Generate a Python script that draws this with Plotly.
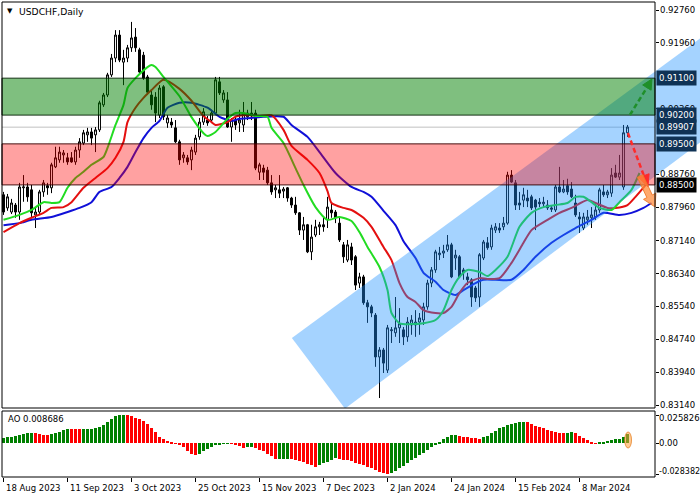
import plotly.graph_objects as go

W, H = 700, 500

# ---------------- data ----------------
dates = ["18 Aug 2023", "11 Sep 2023", "3 Oct 2023", "25 Oct 2023", "15 Nov 2023",
         "7 Dec 2023", "2 Jan 2024", "24 Jan 2024", "15 Feb 2024", "8 Mar 2024"]
date_bar = [0, 16, 32, 48, 64, 80, 96, 112, 128, 144]

open_ = [0.8826, 0.8794, 0.8784, 0.8801, 0.8784, 0.8843, 0.8845, 0.8838, 0.8777, 0.8784,
         0.8833, 0.8848, 0.8843, 0.8894, 0.8911, 0.8923, 0.8916, 0.8916, 0.8906, 0.8935,
         0.8952, 0.8972, 0.8979, 0.8972, 0.8984, 0.9045, 0.9069, 0.9118, 0.9159, 0.9215,
         0.9149, 0.9159, 0.9184, 0.9210, 0.9179, 0.9166, 0.9113, 0.9069, 0.9064, 0.9020,
         0.9089, 0.9001, 0.9003, 0.8989, 0.8955, 0.8916, 0.8916, 0.8911, 0.8930, 0.8967,
         0.9003, 0.9008, 0.9008, 0.9025, 0.9101, 0.9057, 0.9057, 0.8991, 0.9008, 0.9001,
         0.8996, 0.9016, 0.9025, 0.9025, 0.8881, 0.8891, 0.8886, 0.8855, 0.8838, 0.8838,
         0.8835, 0.8843, 0.8818, 0.8801, 0.8782, 0.8740, 0.8753, 0.8687, 0.8728, 0.8748,
         0.8753, 0.8765, 0.8789, 0.8784, 0.8757, 0.8704, 0.8667, 0.8699, 0.8675, 0.8611,
         0.8626, 0.8563, 0.8553, 0.8533, 0.8431, 0.8448, 0.8399, 0.8495, 0.8490, 0.8502,
         0.8497, 0.8480, 0.8509, 0.8509, 0.8516, 0.8521, 0.8553, 0.8611, 0.8643, 0.8680,
         0.8684, 0.8692, 0.8704, 0.8672, 0.8675, 0.8643, 0.8626, 0.8619, 0.8599, 0.8577,
         0.8672, 0.8709, 0.8699, 0.8740, 0.8745, 0.8748, 0.8757, 0.8874, 0.8855, 0.8806,
         0.8813, 0.8818, 0.8821, 0.8813, 0.8808, 0.8804, 0.8801, 0.8794, 0.8789, 0.8845,
         0.8833, 0.8848, 0.8840, 0.8806, 0.8772, 0.8745, 0.8765, 0.8770, 0.8772, 0.8789,
         0.8833, 0.8826, 0.8830, 0.8879, 0.8869, 0.8845, 0.8977]
high = [0.8833, 0.8828, 0.8816, 0.8806, 0.8855, 0.8874, 0.8855, 0.8850, 0.8794, 0.8838,
        0.8862, 0.8855, 0.8904, 0.8943, 0.8943, 0.8935, 0.8928, 0.8930, 0.8943, 0.8964,
        0.8984, 0.8989, 0.8989, 0.8991, 0.9055, 0.9074, 0.9123, 0.9169, 0.9227, 0.9227,
        0.9179, 0.9191, 0.9247, 0.9232, 0.9184, 0.9174, 0.9118, 0.9081, 0.9076, 0.9093,
        0.9093, 0.9020, 0.9013, 0.9008, 0.8960, 0.8930, 0.8923, 0.8943, 0.8972, 0.9013,
        0.9037, 0.9018, 0.9033, 0.9113, 0.9113, 0.9081, 0.9076, 0.9013, 0.9016, 0.9033,
        0.9052, 0.9033, 0.9052, 0.9033, 0.8904, 0.8899, 0.8894, 0.8874, 0.8850, 0.8874,
        0.8845, 0.8845, 0.8821, 0.8821, 0.8784, 0.8772, 0.8755, 0.8753, 0.8765, 0.8760,
        0.8770, 0.8821, 0.8806, 0.8789, 0.8770, 0.8711, 0.8716, 0.8709, 0.8679, 0.8636,
        0.8631, 0.8570, 0.8558, 0.8538, 0.8455, 0.8453, 0.8509, 0.8504, 0.8577, 0.8550,
        0.8504, 0.8528, 0.8533, 0.8545, 0.8538, 0.8563, 0.8619, 0.8650, 0.8692, 0.8699,
        0.8704, 0.8728, 0.8709, 0.8692, 0.8679, 0.8648, 0.8636, 0.8623, 0.8604, 0.8684,
        0.8716, 0.8723, 0.8753, 0.8757, 0.8757, 0.8772, 0.8882, 0.8886, 0.8862, 0.8833,
        0.8843, 0.8838, 0.8826, 0.8816, 0.8818, 0.8821, 0.8813, 0.8801, 0.8850, 0.8894,
        0.8862, 0.8865, 0.8857, 0.8826, 0.8784, 0.8782, 0.8789, 0.8796, 0.8806, 0.8843,
        0.8850, 0.8838, 0.8891, 0.8899, 0.8923, 0.8996, 0.8996]
low = [0.8777, 0.8787, 0.8779, 0.8770, 0.8765, 0.8809, 0.8809, 0.8772, 0.8745, 0.8779,
       0.8821, 0.8826, 0.8830, 0.8891, 0.8904, 0.8904, 0.8899, 0.8904, 0.8899, 0.8916,
       0.8947, 0.8955, 0.8947, 0.8930, 0.8979, 0.9040, 0.9064, 0.9113, 0.9149, 0.9149,
       0.9093, 0.9149, 0.9174, 0.9174, 0.9118, 0.9106, 0.9069, 0.9033, 0.9003, 0.9013,
       0.9008, 0.8989, 0.8989, 0.8952, 0.8899, 0.8904, 0.8899, 0.8886, 0.8923, 0.8960,
       0.8996, 0.8994, 0.9003, 0.9020, 0.9069, 0.9050, 0.8989, 0.8955, 0.8984, 0.8979,
       0.8979, 0.9008, 0.9008, 0.8886, 0.8862, 0.8862, 0.8850, 0.8826, 0.8818, 0.8818,
       0.8818, 0.8809, 0.8794, 0.8777, 0.8728, 0.8716, 0.8684, 0.8667, 0.8723, 0.8728,
       0.8736, 0.8745, 0.8770, 0.8757, 0.8711, 0.8660, 0.8662, 0.8655, 0.8594, 0.8599,
       0.8558, 0.8514, 0.8528, 0.8407, 0.8331, 0.8392, 0.8392, 0.8465, 0.8480, 0.8465,
       0.8460, 0.8468, 0.8485, 0.8480, 0.8485, 0.8509, 0.8546, 0.8601, 0.8636, 0.8667,
       0.8672, 0.8687, 0.8623, 0.8643, 0.8623, 0.8619, 0.8606, 0.8553, 0.8565, 0.8553,
       0.8667, 0.8692, 0.8692, 0.8733, 0.8733, 0.8740, 0.8753, 0.8855, 0.8789, 0.8789,
       0.8796, 0.8796, 0.8789, 0.8740, 0.8796, 0.8796, 0.8789, 0.8784, 0.8784, 0.8830,
       0.8830, 0.8826, 0.8818, 0.8772, 0.8733, 0.8740, 0.8753, 0.8745, 0.8765, 0.8782,
       0.8821, 0.8818, 0.8821, 0.8867, 0.8862, 0.8838, 0.8967]
close = [0.8784, 0.8821, 0.8806, 0.8784, 0.8845, 0.8845, 0.8821, 0.8782, 0.8784, 0.8833,
         0.8855, 0.8843, 0.8899, 0.8916, 0.8930, 0.8928, 0.8906, 0.8906, 0.8935, 0.8955,
         0.8977, 0.8979, 0.8964, 0.8984, 0.9050, 0.9069, 0.9118, 0.9159, 0.9215, 0.9154,
         0.9159, 0.9184, 0.9208, 0.9184, 0.9125, 0.9110, 0.9076, 0.9045, 0.9025, 0.9086,
         0.9016, 0.9013, 0.8996, 0.8955, 0.8911, 0.8923, 0.8906, 0.8935, 0.8964, 0.9003,
         0.9028, 0.9001, 0.9025, 0.9106, 0.9074, 0.9074, 0.8991, 0.9008, 0.8996, 0.9008,
         0.9025, 0.9025, 0.9018, 0.8891, 0.8899, 0.8881, 0.8855, 0.8833, 0.8843, 0.8830,
         0.8840, 0.8818, 0.8801, 0.8782, 0.8740, 0.8753, 0.8687, 0.8723, 0.8748, 0.8753,
         0.8748, 0.8796, 0.8782, 0.8770, 0.8716, 0.8675, 0.8704, 0.8667, 0.8606, 0.8626,
         0.8563, 0.8553, 0.8538, 0.8431, 0.8448, 0.8416, 0.8502, 0.8497, 0.8502, 0.8512,
         0.8480, 0.8516, 0.8521, 0.8516, 0.8526, 0.8553, 0.8611, 0.8643, 0.8687, 0.8684,
         0.8689, 0.8704, 0.8626, 0.8679, 0.8626, 0.8636, 0.8619, 0.8577, 0.8575, 0.8680,
         0.8711, 0.8697, 0.8745, 0.8748, 0.8740, 0.8757, 0.8874, 0.8857, 0.8801, 0.8801,
         0.8826, 0.8811, 0.8794, 0.8796, 0.8804, 0.8808, 0.8794, 0.8791, 0.8845, 0.8833,
         0.8840, 0.8833, 0.8821, 0.8777, 0.8767, 0.8772, 0.8772, 0.8777, 0.8789, 0.8838,
         0.8826, 0.8833, 0.8874, 0.8869, 0.8879, 0.8977, 0.8991]
bars = list(range(len(close)))

# Alligator lines (bar index, price)
lips_bar = [0, 4, 7, 10, 12, 14, 16, 18, 20, 22, 25, 26, 28, 30, 31, 33, 36, 37, 38, 40, 44, 47,
            50, 51, 53, 56, 58, 60, 63, 66, 67, 70, 73, 75, 78, 81, 84, 87, 89, 91, 94, 96, 97,
            99, 102, 105, 108, 110, 112, 114, 116, 119, 121, 123, 126, 129, 132, 135, 138, 141,
            143, 145, 147, 149, 152, 154, 157, 159]
lips_val = [0.8765, 0.8777, 0.8789, 0.8808, 0.8806, 0.8808, 0.8843, 0.8867, 0.8882, 0.8899,
            0.8918, 0.8940, 0.8996, 0.9045, 0.9086, 0.9110, 0.9137, 0.9142, 0.9137, 0.9113,
            0.9066, 0.9015, 0.8976, 0.8969, 0.8979, 0.9011, 0.9025, 0.9025, 0.9018, 0.9016,
            0.8989, 0.8952, 0.8891, 0.8850, 0.8796, 0.8765, 0.8772, 0.8762, 0.8735, 0.8699,
            0.8650, 0.8594, 0.8538, 0.8513, 0.8511, 0.8513, 0.8521, 0.8545, 0.8594, 0.8626,
            0.8643, 0.8638, 0.8628, 0.8643, 0.8675, 0.8748, 0.8782, 0.8796, 0.8801, 0.8806,
            0.8821, 0.8821, 0.8808, 0.8794, 0.8789, 0.8808, 0.8838, 0.8879]
teeth_bar = [0, 4, 7, 10, 12, 15, 17, 20, 23, 26, 28, 30, 31, 33, 35, 37, 40, 44, 47, 50, 52,
             53, 56, 58, 61, 64, 67, 70, 72, 76, 79, 81, 82, 85, 87, 90, 92, 95, 97, 99, 101,
             103, 105, 108, 110, 112, 114, 116, 119, 121, 124, 127, 130, 132, 136, 139, 142,
             146, 148, 151, 153, 156, 158, 161]
teeth_val = [0.8735, 0.8757, 0.8770, 0.8782, 0.8794, 0.8796, 0.8808, 0.8843, 0.8867, 0.8891,
             0.8916, 0.8955, 0.9003, 0.9038, 0.9062, 0.9081, 0.9106, 0.9084, 0.9055, 0.9018,
             0.9003, 0.8996, 0.9003, 0.9016, 0.9020, 0.9018, 0.9020, 0.8984, 0.8945, 0.8911,
             0.8879, 0.8835, 0.8806, 0.8794, 0.8789, 0.8770, 0.8748, 0.8699, 0.8667, 0.8611,
             0.8577, 0.8565, 0.8545, 0.8538, 0.8538, 0.8553, 0.8587, 0.8611, 0.8623, 0.8621,
             0.8623, 0.8660, 0.8709, 0.8740, 0.8765, 0.8782, 0.8794, 0.8813, 0.8806, 0.8794,
             0.8794, 0.8801, 0.8821, 0.8855]
jaw_bar = [0, 4, 7, 12, 16, 19, 22, 24, 27, 29, 31, 33, 35, 37, 39, 41, 44, 47, 51, 54, 57,
           59, 62, 65, 70, 72, 76, 79, 83, 87, 90, 92, 95, 98, 100, 103, 105, 108, 110, 113,
           115, 118, 120, 123, 127, 130, 133, 137, 140, 143, 147, 150, 154, 157, 160, 162]
jaw_val = [0.8752, 0.8757, 0.8765, 0.8772, 0.8784, 0.8794, 0.8808, 0.8833, 0.8845, 0.8867,
           0.8894, 0.8930, 0.8964, 0.8989, 0.9006, 0.9038, 0.9050, 0.9050, 0.9038, 0.9016,
           0.9006, 0.9011, 0.9013, 0.9016, 0.9016, 0.8996, 0.8967, 0.8930, 0.8879, 0.8845,
           0.8833, 0.8821, 0.8787, 0.8752, 0.8713, 0.8672, 0.8636, 0.8614, 0.8594, 0.8582,
           0.8594, 0.8611, 0.8619, 0.8619, 0.8619, 0.8643, 0.8675, 0.8709, 0.8728, 0.8745,
           0.8765, 0.8782, 0.8777, 0.8782, 0.8794, 0.8806]

# Awesome Oscillator
ao = [0.00512, 0.00542, 0.00603, 0.00664, 0.00755, 0.00816, 0.00907, 0.00968,
      0.00938, 0.00846, 0.00786, 0.00755,
      0.00816, 0.00938, 0.01060, 0.01212, 0.01303,
      0.01288, 0.01273, 0.01258,
      0.01303, 0.01318, 0.01334, 0.01364, 0.01486, 0.01669, 0.01912, 0.02217, 0.02491, 0.02567, 0.025826,
      0.02552, 0.02491, 0.02339, 0.02217, 0.02034, 0.01730, 0.01364, 0.00999, 0.00603, 0.00359,
      0.00207, 0.00085, -0.00037, -0.00158, -0.00402, -0.00706, -0.00980, -0.01072,
      -0.01011, -0.00767, -0.00554, -0.00371, -0.00219, -0.00097, -0.00037, -0.00006,
      -0.00067, -0.00158, -0.00311, -0.00463,
      -0.00402, -0.00371,
      -0.00463, -0.00615, -0.00767, -0.01011, -0.01224, -0.01468,
      -0.01452, -0.01437, -0.01422,
      -0.01498, -0.01559, -0.01650, -0.01772, -0.01894, -0.02046, -0.02168,
      -0.02016, -0.01864, -0.01711, -0.01559, -0.01407,
      -0.01468, -0.01529, -0.01590, -0.01681, -0.01803, -0.01924, -0.02046, -0.02168, -0.02320,
      -0.02503, -0.02625, -0.02747, -0.028382,
      -0.02777, -0.02594, -0.02320, -0.02077, -0.01864, -0.01590, -0.01346, -0.01102, -0.00889,
      -0.00646, -0.00371, -0.00128, 0.00116, 0.00359, 0.00572, 0.00725, 0.00786,
      0.00694, 0.00603, 0.00542, 0.00512, 0.00466, 0.00420,
      0.00542, 0.00664, 0.00907, 0.01151, 0.01364, 0.01516, 0.01638, 0.01760, 0.01851, 0.01912, 0.01943,
      0.01912, 0.01760, 0.01577, 0.01455, 0.01364, 0.01242, 0.01121, 0.00999, 0.00938, 0.00923,
      0.00968, 0.00999,
      0.00907, 0.00694, 0.00451, 0.00268, 0.00100, -0.00021,
      0.00024, 0.00146, 0.00238, 0.00298, 0.00359, 0.00420, 0.00572, 0.008686]

price_ticks = [0.9276, 0.9196, 0.9036, 0.8876, 0.8796, 0.8714, 0.8634,
               0.8554, 0.8474, 0.8394, 0.8314]
price_tick_text = ["0.92760", "0.91960", "0.90360", "0.88760", "0.87960", "0.87140", "0.86340",
                   "0.85540", "0.84740", "0.83940", "0.83140"]
ao_ticks = [0.025826, 0.0, -0.028382]
ao_tick_text = ["0.025826", "0.00", "-0.028382"]

green_zone = (0.9020, 0.9110)
red_zone = (0.8850, 0.8950)
bid = 0.89907
levels = [(0.9110, "0.91100", "#0f3255"), (0.9020, "0.90200", "#0f3255"),
          (0.89907, "0.89907", "#0f3255"), (0.8950, "0.89500", "#0f3255"),
          (0.8850, "0.88500", "#000000")]

# drawn objects (bar index, price)
channel = [(72.1, 0.84773), (85.375, 0.83052), (176.0, 0.89673), (176.0, 0.92197)]
green_arrow_line = ((156.6, 0.90203), (160.85, 0.90870))
green_arrow_head = [(162.1, 0.91080), (161.9, 0.90807), (159.8, 0.90934)]
red_arrow_line = ((156.1, 0.89765), (160.1, 0.88725))
red_arrow_head = [(161.1, 0.88450), (161.4, 0.88772), (158.8, 0.88679)]
orange_arrow = [(159.8, 0.88750), (162.2, 0.88255), (163.1, 0.88299), (162.9, 0.87963),
                (160.0, 0.88148), (160.85, 0.88192), (158.45, 0.88686)]

# ---------------- figure ----------------
FONT = "DejaVu Sans"
FS = 8.5


def px(x):
    return x / W


def py(y):
    return 1 - y / H


def path(pts):
    return "M " + " L ".join(f"{a},{b}" for a, b in pts) + " Z"


fig = go.Figure()

fig.add_trace(go.Candlestick(
    x=bars, open=open_, high=high, low=low, close=close, xaxis="x", yaxis="y",
    increasing=dict(line=dict(color="black", width=1), fillcolor="white"),
    decreasing=dict(line=dict(color="black", width=1), fillcolor="black"),
    whiskerwidth=0, hoverinfo="skip"))

for xs, ys, col in [(jaw_bar, jaw_val, "#1010d8"), (teeth_bar, teeth_val, "#e41010"),
                    (lips_bar, lips_val, "#22dc22")]:
    fig.add_trace(go.Scatter(x=xs, y=ys, mode="lines", xaxis="x", yaxis="y",
                             line=dict(color=col, width=2, shape="spline", smoothing=0.6),
                             hoverinfo="skip"))

ao_colors = ["#008000" if k == 0 or ao[k] >= ao[k - 1] else "#ff0000" for k in range(len(ao))]
fig.add_trace(go.Bar(x=bars, y=ao, width=0.75, marker=dict(color=ao_colors, line=dict(width=0)),
                     xaxis="x2", yaxis="y2", hoverinfo="skip"))

shapes = []
shapes.append(dict(type="line", xref="paper", yref="y", x0=px(2), x1=px(655), y0=bid, y1=bid,
                   line=dict(color="#c0c0c0", width=1), layer="below"))
shapes.append(dict(type="path", xref="x", yref="y", path=path(channel),
                   fillcolor="rgba(30,144,255,0.40)", line=dict(width=0), layer="above"))
shapes.append(dict(type="rect", xref="paper", yref="y", x0=px(2), x1=px(655),
                   y0=green_zone[0], y1=green_zone[1], fillcolor="rgba(0,128,0,0.5)",
                   line=dict(color="rgba(0,30,0,0.9)", width=1), layer="above"))
shapes.append(dict(type="rect", xref="paper", yref="y", x0=px(2), x1=px(655),
                   y0=red_zone[0], y1=red_zone[1], fillcolor="rgba(255,0,0,0.37)",
                   line=dict(color="rgba(50,0,0,0.9)", width=1), layer="above"))
# arrows
(a0, a1) = green_arrow_line
shapes.append(dict(type="line", xref="x", yref="y", x0=a0[0], y0=a0[1], x1=a1[0], y1=a1[1],
                   line=dict(color="#1f8f2a", width=2.5, dash="5px,3px"), layer="above"))
shapes.append(dict(type="path", xref="x", yref="y", path=path(green_arrow_head),
                   fillcolor="#1f8f2a", line=dict(color="#1f8f2a", width=1), layer="above"))
(b0, b1) = red_arrow_line
shapes.append(dict(type="line", xref="x", yref="y", x0=b0[0], y0=b0[1], x1=b1[0], y1=b1[1],
                   line=dict(color="#ff2a2a", width=2.5, dash="5px,3px"), layer="above"))
shapes.append(dict(type="path", xref="x", yref="y", path=path(red_arrow_head),
                   fillcolor="#ff2a2a", line=dict(color="#ff2a2a", width=1), layer="above"))
shapes.append(dict(type="path", xref="x", yref="y", path=path(orange_arrow),
                   fillcolor="rgba(255,140,60,0.75)", line=dict(color="rgba(240,120,40,0.9)", width=1),
                   layer="above"))
# AO highlight
shapes.append(dict(type="circle", xref="x2", yref="y2", x0=155.3, x1=157.0, y0=-0.0045, y1=0.0102,
                   fillcolor="rgba(255,160,60,0.55)", line=dict(color="rgba(230,130,40,0.8)", width=1),
                   layer="above"))
# frames
shapes.append(dict(type="rect", xref="paper", yref="paper", x0=px(2), x1=px(655), y0=py(408), y1=py(2),
                   line=dict(color="black", width=1), fillcolor="rgba(0,0,0,0)", layer="above"))
shapes.append(dict(type="rect", xref="paper", yref="paper", x0=px(2), x1=px(655), y0=py(477), y1=py(411),
                   line=dict(color="black", width=1), fillcolor="rgba(0,0,0,0)", layer="above"))

annotations = []
txtfont = dict(family=FONT, size=FS, color="black")
# price axis labels
for val, txt in zip(price_ticks, price_tick_text):
    annotations.append(dict(xref="paper", yref="y", x=px(658), y=val, xanchor="left", yanchor="middle",
                            text=txt, showarrow=False, font=txtfont))
# level boxes
for val, txt, col in levels:
    annotations.append(dict(xref="paper", yref="y", x=px(656), y=val, xanchor="left", yanchor="middle",
                            text=txt, showarrow=False, bgcolor=col, borderpad=2,
                            font=dict(family=FONT, size=FS, color="white")))
# AO axis labels
for val, txt, ypix in zip(ao_ticks, ao_tick_text, [418, 443, 471]):
    annotations.append(dict(xref="paper", yref="paper", x=px(657), y=py(ypix), xanchor="left",
                            yanchor="middle", text=txt, showarrow=False,
                            font=dict(family=FONT, size=8 if txt.startswith("-") else FS, color="black")))
# date labels
for b, txt in zip(date_bar, dates):
    annotations.append(dict(xref="x2", yref="paper", x=b, y=py(488), xanchor="left", yanchor="middle",
                            text=txt, showarrow=False, font=txtfont))
annotations.append(dict(xref="paper", yref="paper", x=px(5), y=py(11), xanchor="left", yanchor="middle",
                        text="▼", showarrow=False, font=dict(family=FONT, size=7, color="black")))
annotations.append(dict(xref="paper", yref="paper", x=px(17), y=py(11), xanchor="left", yanchor="middle",
                        text="USDCHF,Daily", showarrow=False, font=dict(family=FONT, size=9.2, color="black")))
annotations.append(dict(xref="paper", yref="paper", x=px(6), y=py(419), xanchor="left", yanchor="middle",
                        text="AO 0.008686", showarrow=False, font=txtfont))

fig.update_layout(
    width=W, height=H, margin=dict(l=0, r=0, t=0, b=0),
    paper_bgcolor="white", plot_bgcolor="white", showlegend=False, bargap=0,
    xaxis=dict(domain=[px(2), 1], range=[-0.375, 174.125], visible=False,
               rangeslider=dict(visible=False), showgrid=False, zeroline=False),
    yaxis=dict(domain=[py(408), py(2)], range=[0.83067, 0.92955], anchor="free", position=px(655),
               side="right", tickvals=price_ticks, showticklabels=False,
               ticks="outside", ticklen=3, tickcolor="black", showgrid=False, zeroline=False,
               showline=False),
    xaxis2=dict(domain=[px(2), px(655)], range=[-0.375, 162.875], anchor="y2",
                tickvals=date_bar, showticklabels=False, ticks="outside", ticklen=4, tickcolor="black",
                showgrid=False, zeroline=False, showline=False),
    yaxis2=dict(domain=[py(477), py(411)], range=[-0.03114, 0.0295], anchor="x2", side="right",
                tickvals=ao_ticks, ticks="outside", ticklen=3, tickcolor="black",
                showticklabels=False, showgrid=False, zeroline=False, showline=False),
    shapes=shapes, annotations=annotations,
)

fig.write_html("out.html", config={"displayModeBar": False},
               post_script="document.body.style.margin='0';document.body.style.overflow='hidden';")
